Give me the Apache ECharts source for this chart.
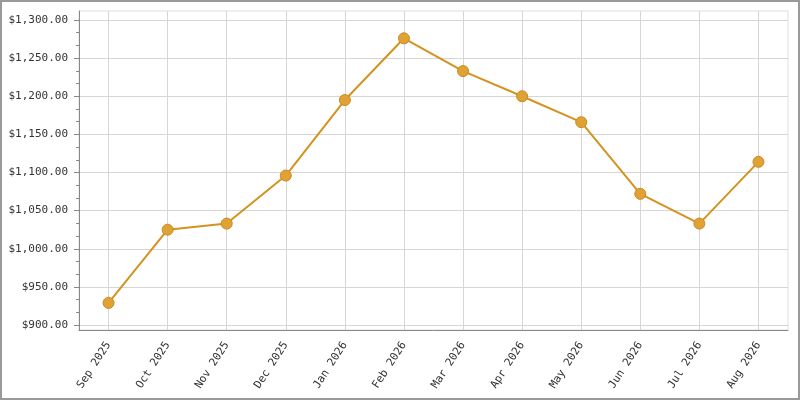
<!DOCTYPE html>
<html>
<head>
<meta charset="utf-8">
<script src="https://cdn.jsdelivr.net/npm/echarts@6/dist/echarts.min.js"></script>
<style>
  html, body { margin: 0; padding: 0; background: #fff; }
  #frame { width: 800px; height: 400px; box-sizing: border-box; border: 2px solid #999; }
  #chart { width: 796px; height: 396px; }
</style>
</head>
<body>
<div id="frame"><div id="chart"></div></div>
<script>
// 月份
var months = ['Sep 2025', 'Oct 2025', 'Nov 2025', 'Dec 2025', 'Jan 2026', 'Feb 2026',
              'Mar 2026', 'Apr 2026', 'May 2026', 'Jun 2026', 'Jul 2026', 'Aug 2026'];
// 金额
var amounts = [929, 1025, 1033, 1096, 1195, 1276, 1233, 1200, 1166, 1072, 1033, 1114];
// y轴范围
var yMin = 900;
var yMax = 1300;
var yStep = 50;

var font = 'DejaVu Sans Mono';
var chart = echarts.init(document.getElementById('chart'));

var option = {
    animation: false,
    grid: [
        // 外框 + x轴
        { left: 77, right: 10, top: 9, bottom: 68, show: true, borderColor: '#ddd', borderWidth: 1 },
        // 数据区
        { left: 77, right: 10, top: 18, bottom: 73 }
    ],
    xAxis: [
        {
            gridIndex: 0,
            type: 'category',
            data: months,
            axisLine: { lineStyle: { color: '#888', width: 1 } },
            axisTick: { alignWithLabel: true, length: 5, lineStyle: { color: '#888' } },
            axisLabel: { rotate: 57, margin: 13, fontFamily: font, fontSize: 11, color: '#333' },
            splitLine: { show: true, alignWithLabel: true, lineStyle: { color: '#d6d6d6' } }
        },
        {
            gridIndex: 1,
            type: 'category',
            data: months,
            show: false
        }
    ],
    yAxis: [
        {
            gridIndex: 0,
            type: 'value',
            min: 0,
            max: 1,
            axisLine: { show: true, lineStyle: { color: '#888', width: 1 } },
            axisTick: { show: false },
            axisLabel: { show: false },
            splitLine: { show: false }
        },
        {
            gridIndex: 1,
            type: 'value',
            min: yMin,
            max: yMax,
            interval: yStep,
            axisLine: { show: false },
            axisTick: { show: true, length: 5, lineStyle: { color: '#888' } },
            minorTick: { show: true, splitNumber: 3, length: 3, lineStyle: { color: '#888' } },
            axisLabel: {
                margin: 11,
                fontFamily: font,
                fontSize: 11,
                color: '#333',
                formatter: function (v) {
                    return '$' + v.toLocaleString('en-US', { minimumFractionDigits: 2, maximumFractionDigits: 2 });
                }
            },
            splitLine: { show: true, lineStyle: { color: '#d6d6d6' } }
        }
    ],
    series: [{
        type: 'line',
        xAxisIndex: 1,
        yAxisIndex: 1,
        data: amounts,
        symbol: 'circle',
        symbolSize: 11,
        lineStyle: { color: '#D4921E', width: 2 },
        itemStyle: { color: '#E0A234', borderColor: '#C88A1C', borderWidth: 1 }
    }]
};

chart.setOption(option);
</script>
</body>
</html>
